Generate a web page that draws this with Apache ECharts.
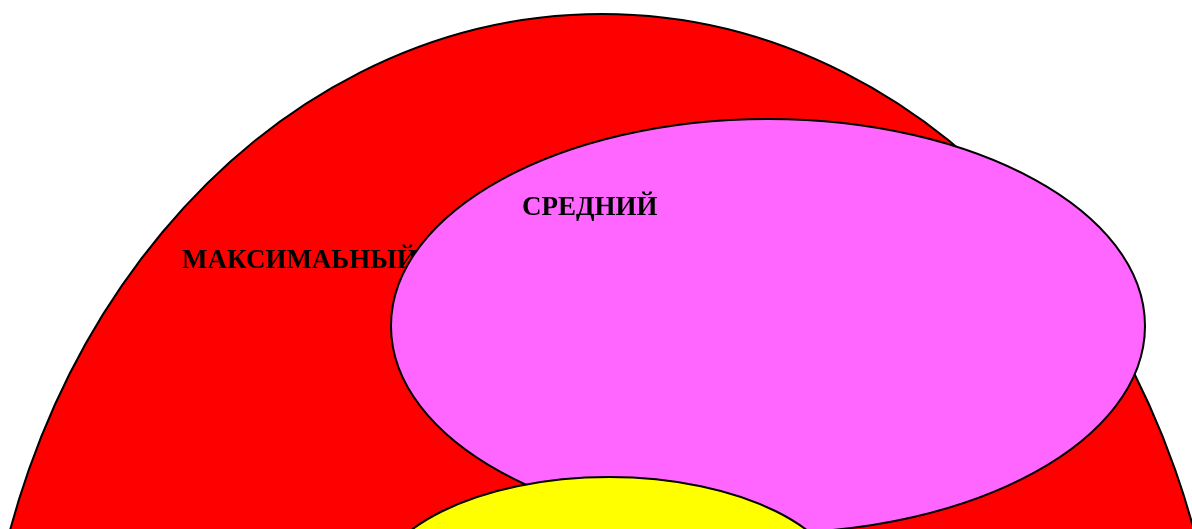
<!DOCTYPE html>
<html>
<head>
<meta charset="utf-8">
<script src="https://cdn.jsdelivr.net/npm/echarts@6/dist/echarts.min.js"></script>
<style>
  html, body { margin: 0; padding: 0; background: #fff; }
  #main { width: 1192px; height: 529px; }
</style>
</head>
<body>
<div id="main"></div>
<script>
// уровни (снизу вверх по порядку отрисовки)
const levels = ['МАКСИМАЬНЫЙ', 'СРЕДНИЙ', ''];
const centerX = [602, 768, 609];
const centerY = [760, 326, 594];
const radiusX = [622, 377, 236];
const radiusY = [746, 207, 117];
const labelX = [182, 522, null];
const labelY = [261, 208, null];
const colors = ['#ff0000', '#ff66ff', '#ffff00'];

let chart = echarts.init(document.getElementById('main'));

let data = levels.map((name, i) => [centerX[i], centerY[i], radiusX[i], radiusY[i], labelX[i], labelY[i]]);

let option = {
  animation: false,
  grid: { left: 0, right: 0, top: 0, bottom: 0 },
  xAxis: { type: 'value', min: 0, max: 1192, show: false },
  yAxis: { type: 'value', min: 0, max: 529, inverse: true, show: false },
  series: [
    {
      type: 'custom',
      silent: true,
      data: data,
      renderItem: (params, api) => {
        let i = params.dataIndex;
        let c = api.coord([api.value(0), api.value(1)]);
        let s = api.size([api.value(2), api.value(3)]);
        let children = [
          {
            type: 'ellipse',
            shape: { cx: c[0], cy: c[1], rx: Math.abs(s[0]), ry: Math.abs(s[1]) },
            style: { fill: colors[i], stroke: '#000', lineWidth: 2 }
          }
        ];
        if (levels[i]) {
          let p = api.coord([api.value(4), api.value(5)]);
          children.push({
            type: 'text',
            x: p[0],
            y: p[1],
            style: {
              text: levels[i],
              font: 'bold 27px "Liberation Serif"',
              fill: '#000',
              align: 'left',
              verticalAlign: 'middle'
            }
          });
        }
        return { type: 'group', children: children };
      }
    }
  ]
};

chart.setOption(option);
window.addEventListener('resize', () => {
  chart.resize();
});
</script>
</body>
</html>
